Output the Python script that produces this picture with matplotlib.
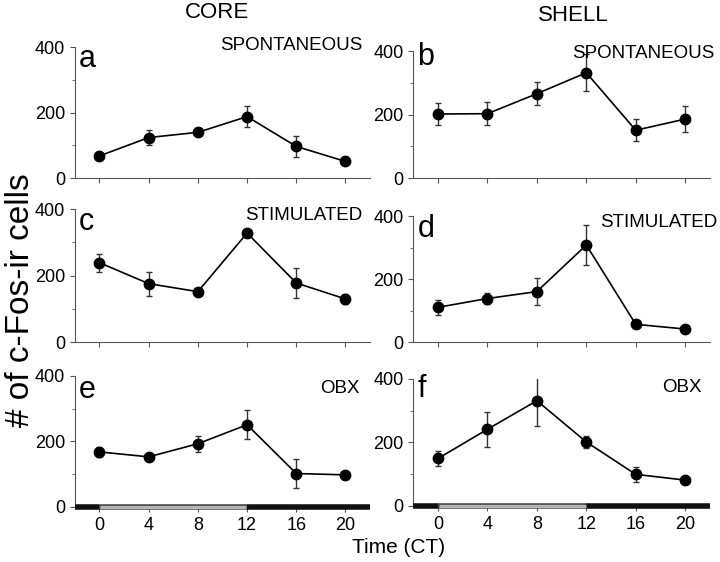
import matplotlib.pyplot as plt

plt.rcParams['font.family'] = ['Liberation Sans', 'DejaVu Sans']

times = [0, 4, 8, 12, 16, 20]

# core
a_mean = [68, 124, 140, 188, 97, 51]
a_err = [5, 22, 6, 33, 33, 8]
c_mean = [239, 176, 152, 328, 178, 130]
c_err = [27, 36, 5, 6, 46, 16]
e_mean = [168, 153, 193, 251, 102, 98]
e_err = [16, 8, 25, 45, 45, 4]

# shell
b_mean = [202, 203, 266, 332, 151, 186]
b_err = [36, 36, 36, 58, 34, 40]
d_mean = [111, 139, 161, 309, 57, 42]
d_err = [23, 19, 44, 65, 10, 10]
f_mean = [149, 241, 331, 201, 99, 81]
f_err = [24, 55, 79, 18, 23, 5]

# letter, condition, mean, err, axes rect, letter y, cond x, cond y
panels = [
    ('a', 'SPONTANEOUS', a_mean, a_err, [0.104, 0.683, 0.41, 0.233], 0.847, 0.973, 1.015),
    ('b', 'SPONTANEOUS', b_mean, b_err, [0.574, 0.683, 0.412, 0.226], 0.89, 1.017, 0.98),
    ('c', 'STIMULATED', c_mean, c_err, [0.104, 0.391, 0.41, 0.237], 0.842, 0.973, 0.955),
    ('d', 'STIMULATED', d_mean, d_err, [0.574, 0.391, 0.412, 0.224], 0.833, 1.024, 0.953),
    ('e', 'OBX', e_mean, e_err, [0.104, 0.098, 0.41, 0.233], 0.832, 0.963, 0.908),
    ('f', 'OBX', f_mean, f_err, [0.574, 0.100, 0.412, 0.226], 0.858, 0.973, 0.93),
]

fig = plt.figure(figsize=(7.2, 5.62), dpi=100)

for i, (letter, cond, m, e, pos, ly, cx, cy) in enumerate(panels):
    ax = fig.add_axes(pos)
    ax.errorbar(times, m, yerr=e, color='black', ecolor='#333333', elinewidth=1,
                capsize=2, marker='o', markersize=7.5, lw=1.2)
    ax.set_xlim(-2, 22)
    ax.set_ylim(0, 400)
    ax.set_yticks([0, 200, 400])
    ax.set_yticks([100, 300], minor=True)
    ax.set_xticks(times)
    ax.spines['top'].set_visible(False)
    ax.spines['right'].set_visible(False)
    ax.spines['left'].set_color('#555555')
    ax.spines['bottom'].set_color('#555555')
    ax.tick_params(axis='both', which='both', colors='#555555', labelcolor='black',
                   labelsize=13, direction='out')
    ax.tick_params(axis='y', which='minor', length=2)
    ax.text(0.014, ly, letter, transform=ax.transAxes, fontsize=22, va='baseline', ha='left')
    ax.text(cx, cy, cond, transform=ax.transAxes, fontsize=13.5,
            va='center', ha='right', clip_on=False)
    if i >= 4:
        # light/dark bar along the time axis
        ax.spines['bottom'].set_visible(False)
        ax.plot([-2, 0], [0, 0], color='#111111', lw=4, solid_capstyle='butt',
                clip_on=False, zorder=5)
        ax.plot([0, 12], [0, 0], color='#444444', lw=4, solid_capstyle='butt',
                clip_on=False, zorder=5)
        ax.plot([0.05, 11.95], [0, 0], color='#b4b4b4', lw=2.4, solid_capstyle='butt',
                clip_on=False, zorder=6)
        ax.plot([12, 22], [0, 0], color='#111111', lw=4, solid_capstyle='butt',
                clip_on=False, zorder=5)
        ax.tick_params(axis='x', pad=4)
    else:
        ax.set_xticklabels([])

fig.text(0.302, 0.978, 'CORE', fontsize=16, ha='center', va='center')
fig.text(0.796, 0.972, 'SHELL', fontsize=16, ha='center', va='center')
fig.text(0.029, 0.466, '# of c-Fos-ir cells', fontsize=24, rotation=90, ha='center', va='center')
fig.text(0.554, 0.025, 'Time (CT)', fontsize=15, ha='center', va='center')

fig.savefig('out.png', dpi=100)
